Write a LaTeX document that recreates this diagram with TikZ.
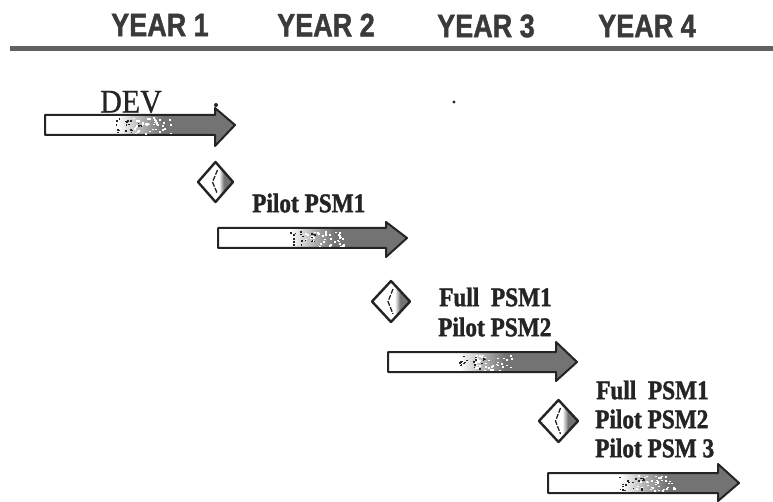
\documentclass[tikz,border=0pt]{standalone}
\usepackage{fontspec}
\setmainfont[BoldFeatures={FakeBold=1.6}]{Liberation Serif}
\newfontfamily\yearfont[BoldFeatures={FakeBold=1.5}]{Liberation Sans}
\newfontfamily\devfont[FakeBold=0.8]{Liberation Serif}
\definecolor{ink}{gray}{0.14}
\definecolor{rulegray}{gray}{0.38}
\definecolor{barfill}{gray}{0.45}
\definecolor{barmid}{gray}{0.62}
\pgfdeclarehorizontalshading{fadebar}{100bp}{color(0bp)=(white); color(44bp)=(white); color(52bp)=(barmid); color(56bp)=(barfill); color(100bp)=(barfill)}
\pgfdeclarehorizontalshading{fadediamond}{100bp}{color(0bp)=(white); color(55bp)=(white); color(62bp)=(barfill); color(100bp)=(barfill)}
\tikzset{
  yearlabel/.style={font=\yearfont\bfseries\fontsize{30}{30}\selectfont, text=ink!90, inner sep=0pt, anchor=center},
  tasklabel/.style={font=\bfseries\fontsize{24}{24}\selectfont, text=ink, inner sep=0pt, anchor=west},
  devlabel/.style={font=\devfont\fontsize{30}{30}\selectfont, text=ink, inner sep=0pt, anchor=center},
  barshape/.style={draw=ink, line width=2pt, line join=round, shade, shading=fadebar},
  gateshape/.style={draw=ink, line width=2.4pt, line join=round, shade, shading=fadediamond},
  speck/.style={fill=white, draw=none},
}
% left, top, bottom, head x, head top, head bottom, tip
\newcommand{\fadearrow}[7]{%
  \path[barshape] (#1,#2) -- (#4,#2) -- (#4,#5) -- (#7,{(#2+#3)/2}) -- (#4,#6) -- (#4,#3) -- (#1,#3) -- cycle;
  \foreach \k in {1,...,40}{%
    \pgfmathsetmacro{\sx}{#1+(#7-#1)*(0.46+0.20*rnd)}%
    \pgfmathsetmacro{\sy}{#2+2+(#3-#2-4)*rnd}%
    \fill[speck] (\sx,\sy) rectangle ++(2,1.6);
    \pgfmathsetmacro{\dx}{#1+(#7-#1)*(0.37+0.14*rnd)}%
    \pgfmathsetmacro{\dy}{#2+3+(#3-#2-6)*rnd}%
    \ifodd\k \fill[ink] (\dx,\dy) rectangle ++(1.8,1.5); \fi
  }%
}
\newcommand{\gate}[4]{% left, right, top, bottom
  \path[gateshape] (#1,{(#3+#4)/2}) -- ({(#1+#2)/2},#3) -- (#2,{(#3+#4)/2}) -- ({(#1+#2)/2},#4) -- cycle;
  \draw[ink, line width=1.3pt, dash pattern=on 5pt off 1.5pt] ({(#1+#2)/2+2},{#3+8}) -- ({(#1+#2)/2-3},{(#3+#4)/2}) -- ({(#1+#2)/2+2},{#4-8});
}
\newcommand{\tall}[1]{\scalebox{0.97}[1.12]{#1}}
\newcommand{\talll}[1]{\scalebox{0.9}[1.08]{#1}}
\begin{document}
\begin{tikzpicture}[x=1pt,y=-1pt]
\useasboundingbox[fill=white] (0,0) rectangle (773,502);
\pgfmathsetseed{42}
\node[yearlabel] (y1) at (160,25) {\talll{YEAR 1}};
\node[yearlabel] (y2) at (326,25) {\talll{YEAR 2}};
\node[yearlabel] (y3) at (486,26) {\talll{YEAR 3}};
\node[yearlabel] (y4) at (647,26) {\talll{YEAR 4}};
\draw[rulegray, line width=5pt] (10,49) -- (773,49);
\fill[ink] (216,105) circle (2);
\fill[ink] (454,102) circle (1.7);

\fadearrow{45}{115}{135}{215}{108}{146}{235}
\fadearrow{218}{228}{248}{386}{222}{257}{407}
\fadearrow{388}{352}{372}{556}{342}{381}{577}
\fadearrow{548}{473}{493}{718}{464}{501}{739}

\gate{198}{233}{162}{202}
\gate{372}{410}{281}{322}
\gate{539}{578}{400}{442}

\node[devlabel] (dev) at (131,102) {\scalebox{1}[1.1]{DEV}};
\node[tasklabel] (a1) at (252,203) {\tall{Pilot PSM1}};
\node[tasklabel] (b1) at (439,297) {\tall{Full\ \ PSM1}};
\node[tasklabel] (b2) at (438,327) {\tall{Pilot PSM2}};
\node[tasklabel] (c1) at (596,390) {\tall{Full\ \ PSM1}};
\node[tasklabel] (c2) at (595,419) {\tall{Pilot PSM2}};
\node[tasklabel] (c3) at (595,448) {\tall{Pilot PSM 3}};
\end{tikzpicture}
\end{document}
